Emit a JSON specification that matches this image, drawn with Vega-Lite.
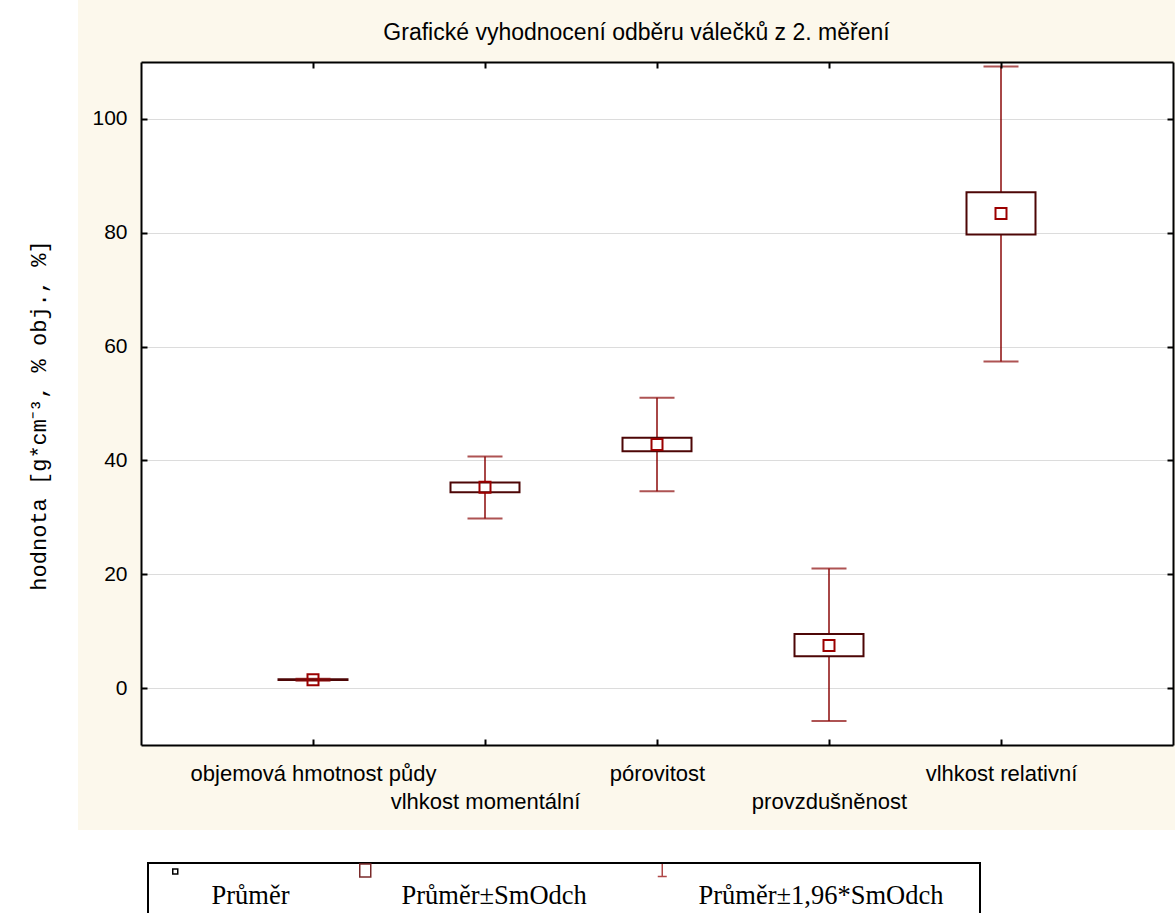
{
  "$schema": "https://vega.github.io/schema/vega-lite/v6.json",
  "width": 1097,
  "height": 830,
  "autosize": {"type": "none"},
  "padding": {"left": 78, "top": 0, "right": 0, "bottom": 83},
  "background": "white",
  "config": {
    "view": {"fill": "#fcf8ec", "stroke": null},
    "font": "Liberation Sans",
    "axis": {"domainColor": "black", "domainWidth": 2, "tickColor": "black", "tickWidth": 2, "labelColor": "black", "titleColor": "black", "labelFont": "Liberation Sans"},
    "legend": {"strokeWidth": 2}
  },
  "title": {
    "text": "Grafické vyhodnocení odběru válečků z 2. měření",
    "font": "Liberation Sans", "fontSize": 23, "fontWeight": "normal", "color": "black",
    "anchor": "middle", "frame": "group", "orient": "top", "offset": -56, "baseline": "middle", "dx": 10
  },
  "data": {"values": [
    {"parametr": "objemová hmotnost půdy", "prumer": 1.48, "sd_dolni": 1.40, "sd_horni": 1.56, "ci_dolni": 1.30, "ci_horni": 1.66},
    {"parametr": "vlhkost momentální", "prumer": 35.3, "sd_dolni": 34.4, "sd_horni": 36.1, "ci_dolni": 29.8, "ci_horni": 40.7},
    {"parametr": "pórovitost", "prumer": 42.8, "sd_dolni": 41.6, "sd_horni": 44.0, "ci_dolni": 34.6, "ci_horni": 51.0},
    {"parametr": "provzdušněnost", "prumer": 7.5, "sd_dolni": 5.6, "sd_horni": 9.5, "ci_dolni": -5.8, "ci_horni": 21.0},
    {"parametr": "vlhkost relativní", "prumer": 83.4, "sd_dolni": 79.7, "sd_horni": 87.1, "ci_dolni": 57.4, "ci_horni": 109.2}
  ]},
  "resolve": {"axis": {"x": "independent", "y": "independent"}},
  "layer": [
    {
      "mark": {"type": "rule", "color": "#8b0a0a", "strokeWidth": 1.5},
      "encoding": {
        "x": {"field": "parametr", "type": "nominal", "sort": null,
          "scale": {"type": "point", "padding": 1, "range": [63, 1095]},
          "axis": {"orient": "bottom", "offset": -85, "tickSize": -6, "labelFontSize": 22, "labelPadding": 24, "labelAngle": 0, "labelBaseline": "top", "labelLineHeight": 28, "labelOverlap": false, "labelFlush": false, "labelLimit": 400, "title": null, "zindex": 1,
            "labelExpr": "indexof(['vlhkost momentální','provzdušněnost'], datum.label) >= 0 ? ['', datum.label] : datum.label"}},
        "y": {"field": "ci_dolni", "type": "quantitative",
          "scale": {"domain": [-10, 110], "range": [745, 62], "nice": false, "zero": false},
          "axis": {"orient": "left", "values": [50], "grid": true, "gridColor": "white", "gridWidth": 683, "gridOpacity": 1, "domain": false, "ticks": false, "labels": false, "title": null, "zindex": 0}},
        "y2": {"field": "ci_horni"}
      }
    },
    {
      "mark": {"type": "bar", "width": 69, "fill": "white", "stroke": "#4d0606", "strokeWidth": 2},
      "encoding": {
        "x": {"field": "parametr", "type": "nominal", "sort": null,
          "axis": {"orient": "top", "offset": -62, "tickSize": -6, "labels": false, "title": null, "zindex": 1}},
        "y": {"field": "sd_dolni", "type": "quantitative",
          "axis": {"orient": "left", "offset": -63, "values": [0, 20, 40, 60, 80, 100], "grid": true, "gridColor": "#dcdcdc", "gridWidth": 1, "tickSize": -6, "labelFontSize": 21, "labelPadding": 20,
            "title": "hodnota [g*cm⁻³, % obj., %]", "titleFont": "Liberation Mono", "titleFontSize": 22, "titleFontWeight": "normal",
            "titleX": -103, "titleY": 415, "titleAngle": -90, "titleAlign": "center", "titleBaseline": "middle", "zindex": 0}},
        "y2": {"field": "sd_horni"}
      }
    },
    {
      "mark": {"type": "tick", "orient": "horizontal", "size": 35, "thickness": 2, "color": "#8b0a0a"},
      "encoding": {
        "x": {"field": "parametr", "type": "nominal", "sort": null, "axis": null},
        "y": {"field": "ci_dolni", "type": "quantitative",
          "axis": {"orient": "right", "offset": -2, "values": [0, 20, 40, 60, 80, 100], "grid": false, "tickSize": -6, "labels": false, "title": null, "zindex": 0}}
      }
    },
    {
      "mark": {"type": "tick", "orient": "horizontal", "size": 35, "thickness": 2, "color": "#8b0a0a"},
      "encoding": {
        "x": {"field": "parametr", "type": "nominal", "sort": null, "axis": null},
        "y": {"field": "ci_horni", "type": "quantitative", "axis": null}
      }
    },
    {
      "mark": {"type": "point", "shape": "square", "size": 121, "filled": false, "stroke": "#9b0000", "strokeWidth": 2, "opacity": 1},
      "encoding": {
        "x": {"field": "parametr", "type": "nominal", "sort": null, "axis": null},
        "y": {"field": "prumer", "type": "quantitative", "axis": null}
      }
    },
    {
      "mark": {"type": "point", "filled": false, "opacity": 0},
      "encoding": {
        "x": {"field": "parametr", "type": "nominal", "sort": null, "axis": null},
        "y": {"field": "prumer", "type": "quantitative", "axis": null},
        "shape": {"datum": "Průměr", "type": "nominal",
          "scale": {"domain": ["Průměr", "Průměr±SmOdch", "Průměr±1,96*SmOdch"],
            "range": ["M-0.25,-1.45H0.25V-0.95H-0.25Z", "M-0.55,-1.95H0.55V-0.65H-0.55Z", "M0,-1.95V-0.7M-0.45,-0.7H0.45"]},
          "legend": {"title": ".", "titleColor": "white", "titleOrient": "right", "titlePadding": 27, "titleFontSize": 10, "orient": "none", "legendX": 70, "legendY": 863, "direction": "horizontal", "columns": 3, "padding": 7,
            "strokeColor": "black", "fillColor": "white", "symbolSize": 400, "symbolStrokeWidth": 1.5, "symbolOpacity": 1, "symbolOffset": 7,
            "labelFont": "Liberation Serif", "labelFontSize": 26.5, "labelColor": "black", "labelOffset": 23, "labelBaseline": "top", "labelLimit": 400,
            "columnPadding": 55}},
        "stroke": {"datum": "Průměr", "type": "nominal",
          "scale": {"domain": ["Průměr", "Průměr±SmOdch", "Průměr±1,96*SmOdch"], "range": ["#000000", "#7a2a2a", "#b04848"]},
          "legend": {"title": ".", "titleColor": "white", "titleOrient": "right", "titlePadding": 27, "titleFontSize": 10, "orient": "none", "legendX": 70, "legendY": 863, "direction": "horizontal", "columns": 3, "padding": 7,
            "strokeColor": "black", "fillColor": "white", "symbolSize": 400, "symbolStrokeWidth": 1.5, "symbolOpacity": 1, "symbolOffset": 7,
            "labelFont": "Liberation Serif", "labelFontSize": 26.5, "labelColor": "black", "labelOffset": 23, "labelBaseline": "top", "labelLimit": 400,
            "columnPadding": 55}}
      }
    }
  ]
}
